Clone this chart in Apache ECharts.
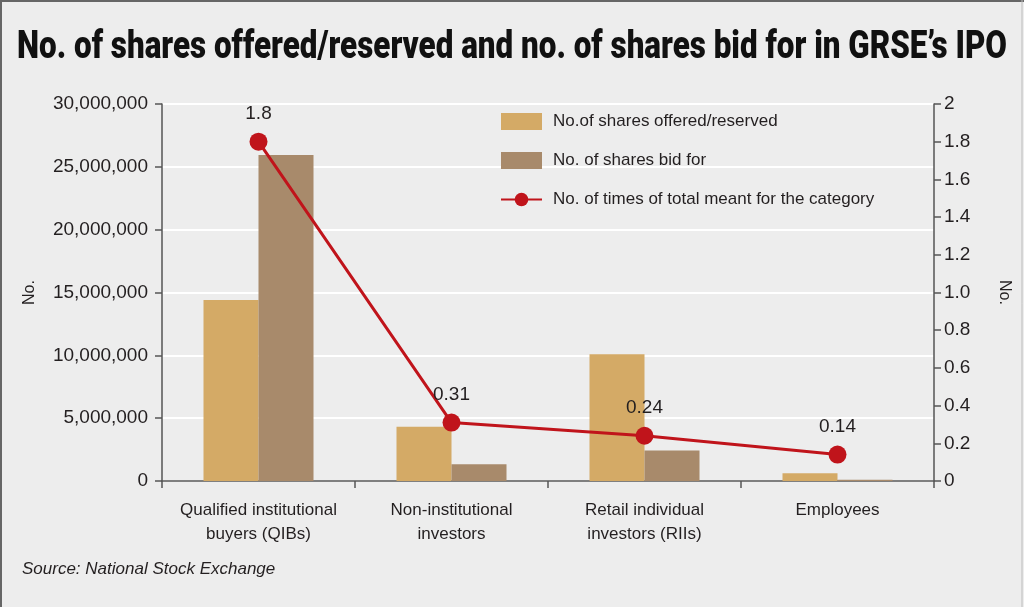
<!DOCTYPE html>
<html>
<head>
    <meta charset="utf-8">
    <title>GRSE IPO</title>
    <script src="https://cdn.jsdelivr.net/npm/echarts@6/dist/echarts.min.js"></script>
    <style>
        html, body { margin: 0; padding: 0; background: #ededed; }
        #chart { width: 1024px; height: 607px; }
    </style>
</head>
<body>
<div id="chart"></div>
<script>
    // categories and values
    var categories = ['Qualified institutional\nbuyers (QIBs)', 'Non-institutional\ninvestors', 'Retail individual\ninvestors (RIIs)', 'Employees'];
    var sharesOffered = [14400000, 4310000, 10080000, 620000];
    var sharesBid = [25950000, 1330000, 2420000, 90000];
    var timesSubscribed = [1.8, 0.31, 0.24, 0.14];

    var titleText = 'No. of shares offered/reserved and no. of shares bid for in GRSE\u2019s IPO';
    var titleFont = '900 38px Roboto';

    // squeeze the heavy title into the width of the original (condensed face)
    var ctx = document.createElement('canvas').getContext('2d');
    ctx.font = titleFont;
    var titleScale = 990 / ctx.measureText(titleText).width;

    var chart = echarts.init(document.getElementById('chart'));

    var axisColor = '#555555';
    var textColor = '#231f20';

    var option = {
        backgroundColor: '#ededed',
        textStyle: { fontFamily: 'Liberation Sans' },
        legend: {
            orient: 'vertical',
            left: 495,
            top: 108,
            itemWidth: 41,
            itemHeight: 17,
            itemGap: 22,
            textStyle: { fontSize: 17, color: textColor, padding: [0, 0, 0, 6] },
            data: [
                { name: 'No.of shares offered/reserved', icon: 'rect' },
                { name: 'No. of shares bid for', icon: 'rect' },
                { name: 'No. of times of total meant for the category' }
            ]
        },
        grid: {
            left: 162,
            right: 90,
            top: 104,
            bottom: 126
        },
        xAxis: {
            type: 'category',
            data: categories,
            axisLine: { lineStyle: { color: axisColor, width: 1.5 } },
            axisTick: { show: true, length: 7, lineStyle: { color: axisColor, width: 1.5 } },
            axisLabel: { interval: 0, fontSize: 17, color: textColor, lineHeight: 24, margin: 17 }
        },
        yAxis: [
            {
                type: 'value',
                min: 0,
                max: 30000000,
                interval: 5000000,
                name: 'No.',
                nameLocation: 'middle',
                nameGap: 124,
                nameTextStyle: { fontSize: 16, color: textColor },
                axisLine: { show: true, lineStyle: { color: axisColor, width: 1.5 } },
                axisTick: { show: true, length: 7, lineStyle: { color: axisColor, width: 1.5 } },
                axisLabel: {
                    fontSize: 19,
                    color: textColor,
                    margin: 14,
                    formatter: function (v) { return v.toLocaleString('en-US'); }
                },
                splitLine: { show: true, lineStyle: { color: '#ffffff', width: 2 } }
            },
            {
                type: 'value',
                min: 0,
                max: 2,
                interval: 0.2,
                position: 'right',
                name: 'No.',
                nameLocation: 'middle',
                nameGap: 62,
                nameRotate: -90,
                nameTextStyle: { fontSize: 16, color: textColor },
                axisLine: { show: true, lineStyle: { color: axisColor, width: 1.5 } },
                axisTick: { show: true, length: 7, lineStyle: { color: axisColor, width: 1.5 } },
                axisLabel: {
                    fontSize: 19,
                    color: textColor,
                    margin: 10,
                    formatter: function (v) {
                        if (v === 0 || v === 2) return String(v);
                        return v.toFixed(1);
                    }
                },
                splitLine: { show: false }
            }
        ],
        series: [
            {
                name: 'No.of shares offered/reserved',
                type: 'bar',
                yAxisIndex: 0,
                data: sharesOffered,
                barWidth: 55,
                barGap: '0%',
                itemStyle: { color: '#d4aa66' }
            },
            {
                name: 'No. of shares bid for',
                type: 'bar',
                yAxisIndex: 0,
                data: sharesBid,
                barWidth: 55,
                itemStyle: { color: '#a88a6b' }
            },
            {
                name: 'No. of times of total meant for the category',
                type: 'line',
                yAxisIndex: 1,
                data: timesSubscribed,
                symbol: 'circle',
                symbolSize: 18,
                lineStyle: { color: '#c0141b', width: 3 },
                itemStyle: { color: '#c0141b' },
                label: {
                    show: true,
                    position: 'top',
                    distance: 9,
                    fontSize: 19,
                    color: textColor
                },
                z: 5
            }
        ],
        graphic: [
            {
                type: 'text',
                x: 512,
                y: 48,
                scaleX: titleScale,
                style: {
                    text: titleText,
                    font: titleFont,
                    fill: '#111111',
                    align: 'center',
                    verticalAlign: 'middle'
                }
            },
            {
                type: 'text',
                left: 22,
                top: 561,
                style: {
                    text: 'Source: National Stock Exchange',
                    font: 'italic 17px "Liberation Sans"',
                    fill: textColor
                }
            },
            {
                type: 'line',
                shape: { x1: 1, y1: 0, x2: 1, y2: 607 },
                style: { stroke: '#666666', lineWidth: 2 }
            },
            {
                type: 'line',
                shape: { x1: 0, y1: 1, x2: 1024, y2: 1 },
                style: { stroke: '#666666', lineWidth: 2 }
            },
            {
                type: 'line',
                shape: { x1: 1022, y1: 0, x2: 1022, y2: 607 },
                style: { stroke: '#bbbbbb', lineWidth: 1 }
            }
        ]
    };

    chart.setOption(option);

    window.onresize = function () {
        chart.resize();
    };
</script>
</body>
</html>
